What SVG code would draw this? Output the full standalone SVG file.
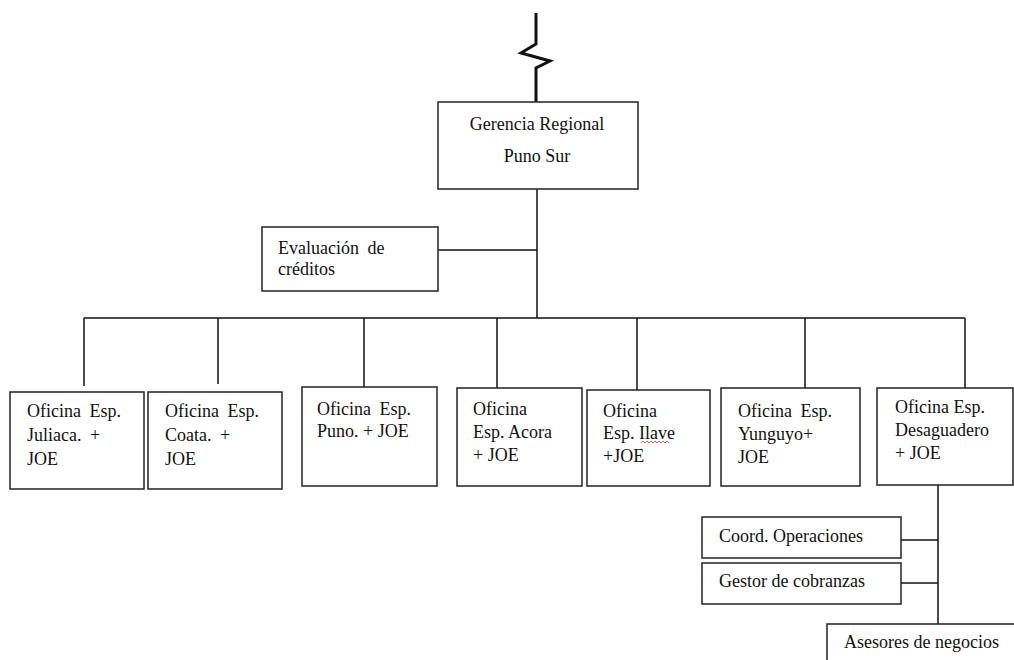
<svg xmlns="http://www.w3.org/2000/svg" width="1014" height="660" viewBox="0 0 1014 660">
<style>
.box{fill:#fff;stroke:#222;stroke-width:1.5}
.ln{fill:none;stroke:#111;stroke-width:1.5}
.t{font-family:"Liberation Serif","Times New Roman",serif;font-size:18px;fill:#111}
.ws{word-spacing:4px}
</style>
<rect width="1014" height="660" fill="#fff"/>
<g id="connectors">
<polyline points="536,13 536,44 521,53 550,61 536,68 536,102" fill="none" stroke="#111" stroke-width="3"/>
<line class="ln" x1="537" y1="189" x2="537" y2="318"/>
<line class="ln" x1="438" y1="250" x2="537" y2="250"/>
<line class="ln" x1="84" y1="318" x2="965" y2="318"/>
<line class="ln" x1="84" y1="318" x2="84" y2="386"/>
<line class="ln" x1="218" y1="318" x2="218" y2="384"/>
<line class="ln" x1="364" y1="318" x2="364" y2="387"/>
<line class="ln" x1="497" y1="318" x2="497" y2="388"/>
<line class="ln" x1="637" y1="318" x2="637" y2="390"/>
<line class="ln" x1="805" y1="318" x2="805" y2="388"/>
<line class="ln" x1="965" y1="318" x2="965" y2="388"/>
<line class="ln" x1="938" y1="485" x2="938" y2="624"/>
<line class="ln" x1="901" y1="540" x2="938" y2="540"/>
<line class="ln" x1="901" y1="583" x2="938" y2="583"/>
</g>
<g id="gerencia">
<rect class="box" x="438" y="102" width="200" height="87"/>
<text class="t" x="537" y="130" text-anchor="middle">Gerencia Regional</text>
<text class="t" x="537" y="162" text-anchor="middle">Puno Sur</text>
</g>
<g id="evaluacion">
<rect class="box" x="262" y="227" width="176" height="64"/>
<text class="t ws" x="278" y="254">Evaluación de</text>
<text class="t" x="278" y="275">créditos</text>
</g>
<g id="juliaca">
<rect class="box" x="10" y="392" width="134" height="97"/>
<text class="t ws" x="27" y="417">Oficina Esp.</text>
<text class="t ws" x="27" y="441">Juliaca. +</text>
<text class="t" x="27" y="465">JOE</text>
</g>
<g id="coata">
<rect class="box" x="148" y="392" width="134" height="97"/>
<text class="t ws" x="165" y="417">Oficina Esp.</text>
<text class="t ws" x="165" y="441">Coata. +</text>
<text class="t" x="165" y="465">JOE</text>
</g>
<g id="puno">
<rect class="box" x="302" y="387" width="135" height="99"/>
<text class="t ws" x="317" y="415">Oficina Esp.</text>
<text class="t" x="317" y="437">Puno. + JOE</text>
</g>
<g id="acora">
<rect class="box" x="457" y="388" width="125" height="98"/>
<text class="t" x="473" y="415">Oficina</text>
<text class="t" x="473" y="438">Esp. Acora</text>
<text class="t" x="473" y="461">+ JOE</text>
</g>
<g id="ilave">
<rect class="box" x="587" y="390" width="123" height="96"/>
<text class="t" x="603" y="417">Oficina</text>
<text class="t" x="603" y="439">Esp. Ilave</text>
<path d="M641,443 l2,-2 l2,2 l2,-2 l2,2 l2,-2 l2,2 l2,-2 l2,2 l2,-2 l2,2 l2,-2 l2,2 l2,-2 l2,2" fill="none" stroke="#e33" stroke-width="0.8"/>
<text class="t" x="603" y="462">+JOE</text>
</g>
<g id="yunguyo">
<rect class="box" x="721" y="388" width="139" height="98"/>
<text class="t ws" x="738" y="417">Oficina Esp.</text>
<text class="t" x="738" y="440">Yunguyo+</text>
<text class="t" x="738" y="463">JOE</text>
</g>
<g id="desaguadero">
<rect class="box" x="877" y="388" width="136" height="97"/>
<text class="t" x="895" y="413">Oficina Esp.</text>
<text class="t" x="895" y="436">Desaguadero</text>
<text class="t" x="895" y="459">+ JOE</text>
</g>
<g id="coord">
<rect class="box" x="702" y="517" width="199" height="41"/>
<text class="t" x="719" y="542">Coord. Operaciones</text>
</g>
<g id="gestor">
<rect class="box" x="702" y="563" width="199" height="41"/>
<text class="t" x="719" y="587">Gestor de cobranzas</text>
</g>
<g id="asesores">
<rect class="box" x="827" y="624" width="200" height="50"/>
<text class="t" x="844" y="648">Asesores de negocios</text>
</g>
</svg>
